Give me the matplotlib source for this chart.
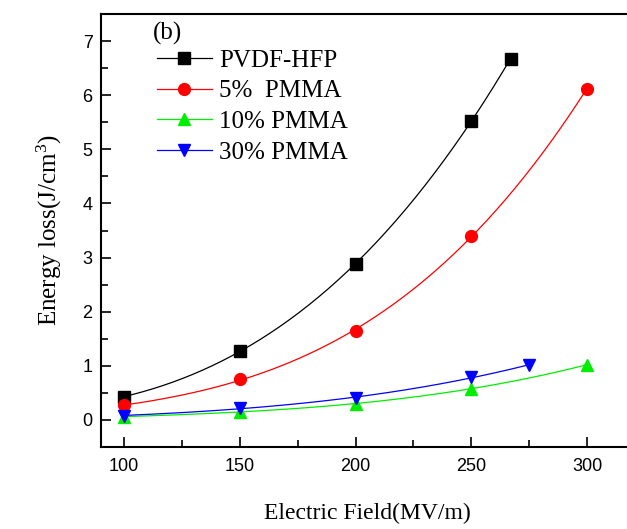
import numpy as np
import matplotlib
matplotlib.use("Agg")
import matplotlib.pyplot as plt

plt.rcParams['mathtext.fontset'] = 'custom'
plt.rcParams['mathtext.rm'] = 'Liberation Serif'
plt.rcParams['mathtext.it'] = 'Liberation Serif:italic'

# data
x_pvdf = [100, 150, 200, 250, 267]
y_pvdf = [0.43, 1.27, 2.88, 5.53, 6.67]
x_5 = [100, 150, 200, 250, 300]
y_5 = [0.27, 0.75, 1.65, 3.40, 6.12]
x_10 = [100, 150, 200, 250, 300]
y_10 = [0.06, 0.15, 0.30, 0.58, 1.02]
x_30 = [100, 150, 200, 250, 275]
y_30 = [0.08, 0.22, 0.40, 0.80, 1.01]

labels = ['PVDF-HFP', '5%  PMMA', '10% PMMA', '30% PMMA']
colors = ['black', '#ff0000', '#00ee00', '#0000ff']
markers = ['s', 'o', '^', 'v']

series = [(x_pvdf, y_pvdf), (x_5, y_5), (x_10, y_10), (x_30, y_30)]

fig = plt.figure(figsize=(6.27, 5.29), dpi=100)
ax = fig.add_axes([0.161, 0.155, 0.849, 0.8185])

for (xs, ys), lab, c, m in zip(series, labels, colors, markers):
    # smooth fitted curve through the points
    coef = np.polyfit(xs, ys, 3)
    xx = np.linspace(min(xs), max(xs), 200)
    ax.plot(xx, np.polyval(coef, xx), color=c, lw=0.9)
    ax.plot(xs, ys, ls='none', marker=m, color=c, ms=8.5, mec=c)
    ax.plot([], [], color=c, lw=0.9, marker=m, ms=8.5, label=lab)

ax.set_xlim(90, 320)
ax.set_ylim(-0.5, 7.5)
ax.set_xticks([100, 150, 200, 250, 300])
ax.set_xticks([125, 175, 225, 275], minor=True)
ax.set_yticks(range(0, 8))
ax.set_yticks(np.arange(0.5, 7.5, 1.0), minor=True)
ax.tick_params(which='both', direction='in', width=1.2, labelsize=13)
ax.tick_params(axis='x', pad=8)
ax.tick_params(axis='y', pad=6)
ax.tick_params(which='major', length=7)
ax.tick_params(which='minor', length=5)
for lbl in ax.get_xticklabels() + ax.get_yticklabels():
    lbl.set_fontfamily('Liberation Sans')
for sp in ax.spines.values():
    sp.set_linewidth(1.5)

ax.set_xlabel('Electric Field(MV/m)', family='Liberation Serif', fontsize=17, labelpad=20)
ax.set_ylabel(r'Energy loss(J/cm$^{3}$)', family='Liberation Serif', fontsize=18, labelpad=13)

fig.text(153 / 627, 1 - 33 / 529, '(b)', fontsize=18, family='Liberation Serif', va='center')

leg = ax.legend(loc='upper left', bbox_to_anchor=(0.086, 0.942), frameon=False,
                prop={'family': 'Liberation Serif', 'size': 18},
                handlelength=2.2, handletextpad=0.3, labelspacing=0.33,
                borderaxespad=0)

fig.savefig('out.png', dpi=100)
